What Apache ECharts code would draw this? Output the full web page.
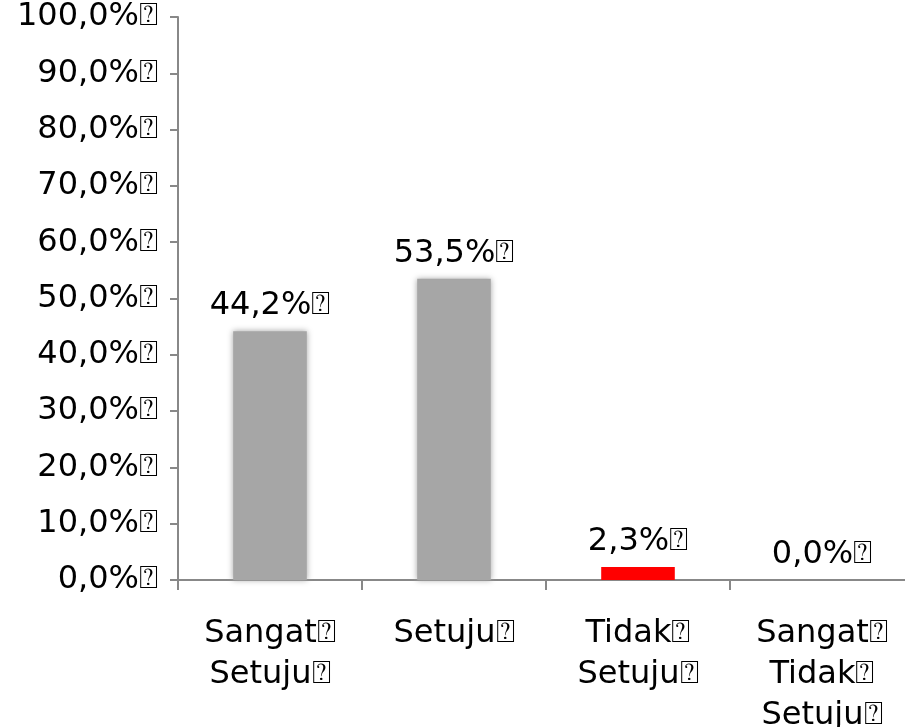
<!DOCTYPE html>
<html>
<head>
<meta charset="utf-8">
<script src="https://cdn.jsdelivr.net/npm/echarts@6/dist/echarts.min.js"></script>
<style>
  html, body { margin: 0; padding: 0; background: #fff; }
  #chart { width: 905px; height: 727px; }
</style>
</head>
<body>
<div id="chart"></div>
<script>
// data
var categories = ['Sangat\u2370\nSetuju\u2370', 'Setuju\u2370', 'Tidak\u2370\nSetuju\u2370', 'Sangat\u2370\nTidak\u2370\nSetuju\u2370'];
var values = [44.2, 53.5, 2.3, 0.0];
var barColors = ['#a6a6a6', '#a6a6a6', '#ff0000', '#a6a6a6'];

function pct(v) {
  return v.toFixed(1).replace('.', ',') + '%\u2370';
}

var Chart = echarts.init(document.getElementById('chart'));
var option = {
  backgroundColor: '#fff',
  textStyle: { fontFamily: 'DejaVu Sans' },
  grid: {
    left: 178,
    right: -9,
    top: 17,
    bottom: 147,
    outerBoundsMode: 'none'
  },
  xAxis: [{
    type: 'category',
    data: categories,
    axisLine: { show: true, lineStyle: { color: '#888', width: 2 } },
    axisTick: { show: true, length: 10, lineStyle: { color: '#888', width: 2 } },
    axisLabel: {
      color: '#000',
      fontSize: 32,
      lineHeight: 41,
      margin: 33,
      interval: 0
    }
  }],
  yAxis: [{
    type: 'value',
    min: 0,
    max: 100,
    interval: 10,
    axisLine: { show: true, lineStyle: { color: '#888', width: 2 } },
    axisTick: { show: true, length: 8, lineStyle: { color: '#888', width: 2 } },
    splitLine: { show: false },
    axisLabel: {
      color: '#000',
      fontSize: 32,
      margin: 20,
      formatter: function (v) { return pct(v); }
    }
  }],
  series: [{
    type: 'bar',
    barWidth: '40%',
    data: values.map(function (v, i) {
      var red = barColors[i] === '#ff0000';
      return {
        value: v,
        itemStyle: {
          color: barColors[i],
          shadowColor: red ? 'transparent' : '#a6a6a6',
          shadowBlur: red ? 0 : 6
        }
      };
    }),
    label: {
      show: true,
      position: 'top',
      distance: 9,
      color: '#000',
      fontSize: 32,
      formatter: function (p) { return pct(p.value); }
    }
  }]
};
Chart.setOption(option);
</script>
</body>
</html>
